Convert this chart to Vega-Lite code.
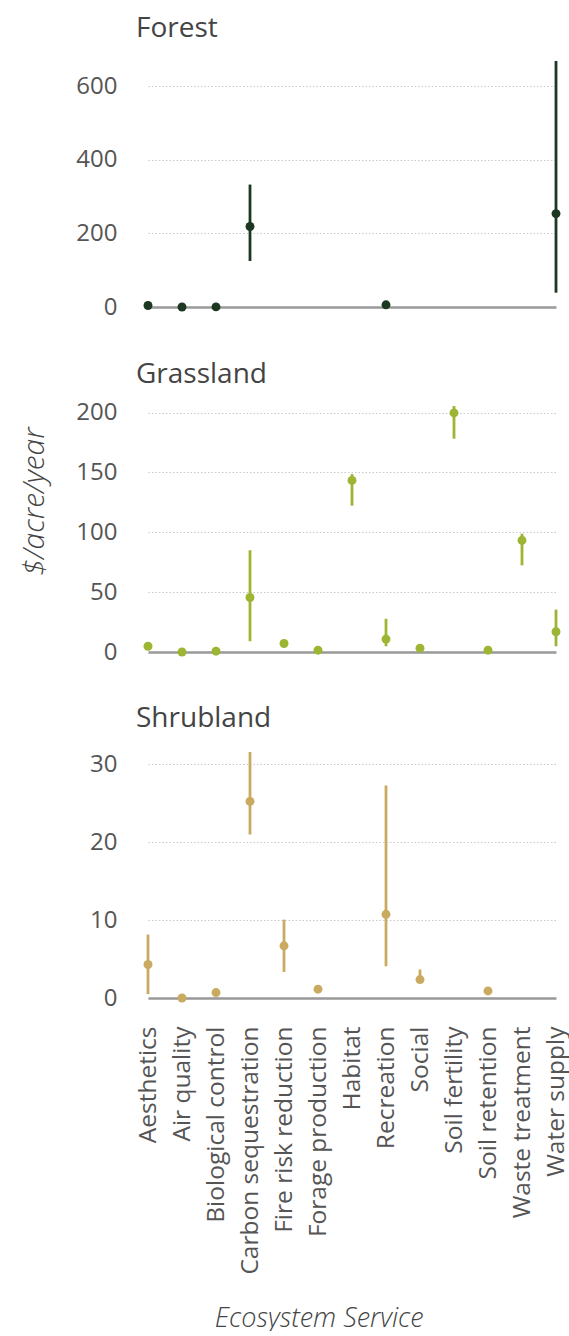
{
  "$schema": "https://vega.github.io/schema/vega-lite/v6.json",
  "padding": {"left": 18, "top": 14, "right": 0, "bottom": 0},
  "spacing": 41,
  "config": {
    "font": "Open Sans",
    "view": {"stroke": null},
    "axis": {"labelFont": "Open Sans", "titleFont": "Open Sans", "labelColor": "#555", "titleColor": "#444", "ticks": false, "domain": false, "grid": false},
    "title": {"font": "Open Sans", "fontSize": 28, "fontWeight": "normal", "color": "#444", "anchor": "start", "frame": "group", "dx": 8, "baseline": "alphabetic"}
  },
  "datasets": {
    "es": [
      {"biome": "Forest", "service": "Aesthetics", "value": 4},
      {"biome": "Forest", "service": "Air quality", "value": 0},
      {"biome": "Forest", "service": "Biological control", "value": 0.3},
      {"biome": "Forest", "service": "Carbon sequestration", "value": 219, "lo": 125, "hi": 333},
      {"biome": "Forest", "service": "Recreation", "value": 6},
      {"biome": "Forest", "service": "Water supply", "value": 254, "lo": 39, "hi": 669},
      {"biome": "Grassland", "service": "Aesthetics", "value": 4.8},
      {"biome": "Grassland", "service": "Air quality", "value": 0},
      {"biome": "Grassland", "service": "Biological control", "value": 0.7},
      {"biome": "Grassland", "service": "Carbon sequestration", "value": 45.5, "lo": 9, "hi": 85},
      {"biome": "Grassland", "service": "Fire risk reduction", "value": 7.1},
      {"biome": "Grassland", "service": "Forage production", "value": 1.5},
      {"biome": "Grassland", "service": "Habitat", "value": 143.3, "lo": 122.2, "hi": 148.6},
      {"biome": "Grassland", "service": "Recreation", "value": 10.8, "lo": 4.8, "hi": 27.7},
      {"biome": "Grassland", "service": "Social", "value": 3.2},
      {"biome": "Grassland", "service": "Soil fertility", "value": 199.7, "lo": 178.2, "hi": 205.5},
      {"biome": "Grassland", "service": "Soil retention", "value": 1.5},
      {"biome": "Grassland", "service": "Waste treatment", "value": 93.3, "lo": 72.4, "hi": 98.8},
      {"biome": "Grassland", "service": "Water supply", "value": 16.9, "lo": 4.8, "hi": 35.4},
      {"biome": "Shrubland", "service": "Aesthetics", "value": 4.3, "lo": 0.5, "hi": 8.15},
      {"biome": "Shrubland", "service": "Air quality", "value": 0},
      {"biome": "Shrubland", "service": "Biological control", "value": 0.7},
      {"biome": "Shrubland", "service": "Carbon sequestration", "value": 25.25, "lo": 21.0, "hi": 31.6},
      {"biome": "Shrubland", "service": "Fire risk reduction", "value": 6.7, "lo": 3.35, "hi": 10.07},
      {"biome": "Shrubland", "service": "Forage production", "value": 1.13},
      {"biome": "Shrubland", "service": "Recreation", "value": 10.75, "lo": 4.08, "hi": 27.3},
      {"biome": "Shrubland", "service": "Social", "value": 2.37, "lo": 2.0, "hi": 3.66},
      {"biome": "Shrubland", "service": "Soil retention", "value": 0.91}
    ]
  },
  "vconcat": [
    {
      "title": {"text": "Forest", "offset": 16.7},
      "width": 441, "height": 246,
      "data": {"name": "es"},
      "transform": [{"filter": "datum.biome === 'Forest'"}],
      "encoding": {
        "x": {"field": "service", "type": "nominal", "title": null,
          "scale": {"type": "point", "padding": 0, "range": [20, 428], "domain": ["Aesthetics", "Air quality", "Biological control", "Carbon sequestration", "Fire risk reduction", "Forage production", "Habitat", "Recreation", "Social", "Soil fertility", "Soil retention", "Waste treatment", "Water supply"]},
          "axis": {"labels": false, "domain": true, "domainColor": "#999", "domainWidth": 2.5}}
      },
      "layer": [
        {"transform": [{"filter": {"field": "lo", "valid": true}}],
         "mark": {"type": "rule", "strokeWidth": 2.8, "color": "#1c3820"},
         "encoding": {"y": {"field": "lo", "type": "quantitative", "title": null, "scale": {"nice": false},
            "axis": {"values": [0, 200, 400, 600], "grid": true, "gridDash": [1.5, 2], "gridColor": "#c8c8c8", "labelFontSize": 24, "labelPadding": 11}},
           "y2": {"field": "hi"}}},
        {"mark": {"type": "circle", "size": 80, "opacity": 1, "color": "#1c3820"},
         "encoding": {"y": {"field": "value", "type": "quantitative", "title": null, "scale": {"nice": false},
            "axis": {"values": [0, 200, 400, 600], "grid": true, "gridDash": [1.5, 2], "gridColor": "#c8c8c8", "labelFontSize": 24, "labelPadding": 11}}}}
      ]
    },
    {
      "title": {"text": "Grassland", "offset": 11.8},
      "width": 441, "height": 246,
      "data": {"name": "es"},
      "transform": [{"filter": "datum.biome === 'Grassland'"}],
      "encoding": {
        "x": {"field": "service", "type": "nominal", "title": null,
          "scale": {"type": "point", "padding": 0, "range": [20, 428], "domain": ["Aesthetics", "Air quality", "Biological control", "Carbon sequestration", "Fire risk reduction", "Forage production", "Habitat", "Recreation", "Social", "Soil fertility", "Soil retention", "Waste treatment", "Water supply"]},
          "axis": {"labels": false, "domain": true, "domainColor": "#999", "domainWidth": 2.5}}
      },
      "layer": [
        {"transform": [{"filter": {"field": "lo", "valid": true}}],
         "mark": {"type": "rule", "strokeWidth": 2.8, "color": "#9cb633"},
         "encoding": {"y": {"field": "lo", "type": "quantitative", "title": "$/acre/year", "scale": {"nice": false},
            "axis": {"values": [0, 50, 100, 150, 200], "grid": true, "gridDash": [1.5, 2], "gridColor": "#c8c8c8", "labelFontSize": 24, "labelPadding": 11,
              "titleFontSize": 30, "titleFontStyle": "italic", "titleFontWeight": 300, "titleAngle": -90, "titleAlign": "center", "titleBaseline": "middle", "titleX": -94, "titleY": 95}},
           "y2": {"field": "hi"}}},
        {"mark": {"type": "circle", "size": 80, "opacity": 1, "color": "#9cb633"},
         "encoding": {"y": {"field": "value", "type": "quantitative", "title": "$/acre/year", "scale": {"nice": false},
            "axis": {"values": [0, 50, 100, 150, 200], "grid": true, "gridDash": [1.5, 2], "gridColor": "#c8c8c8", "labelFontSize": 24, "labelPadding": 11,
              "titleFontSize": 30, "titleFontStyle": "italic", "titleFontWeight": 300, "titleAngle": -90, "titleAlign": "center", "titleBaseline": "middle", "titleX": -94, "titleY": 95}}}}
      ]
    },
    {
      "title": {"text": "Shrubland", "offset": 17.5},
      "width": 441, "height": 246,
      "data": {"name": "es"},
      "transform": [{"filter": "datum.biome === 'Shrubland'"}],
      "encoding": {
        "x": {"field": "service", "type": "nominal", "title": "Ecosystem Service",
          "scale": {"type": "point", "padding": 0, "range": [20, 428], "domain": ["Aesthetics", "Air quality", "Biological control", "Carbon sequestration", "Fire risk reduction", "Forage production", "Habitat", "Recreation", "Social", "Soil fertility", "Soil retention", "Waste treatment", "Water supply"]},
          "axis": {"domain": true, "domainColor": "#999", "domainWidth": 2.5, "labelAngle": -90, "labelAlign": "right", "labelBaseline": "middle", "labelFontSize": 24.5, "labelPadding": 28, "labelLimit": 0,
            "titleFontSize": 27, "titleFontStyle": "italic", "titleFontWeight": 300, "titleAlign": "center", "titleBaseline": "alphabetic", "titleX": 190.7, "titleY": 328}}
      },
      "layer": [
        {"transform": [{"filter": {"field": "lo", "valid": true}}],
         "mark": {"type": "rule", "strokeWidth": 2.8, "color": "#c9aa60"},
         "encoding": {"y": {"field": "lo", "type": "quantitative", "title": null, "scale": {"nice": false},
            "axis": {"values": [0, 10, 20, 30], "grid": true, "gridDash": [1.5, 2], "gridColor": "#c8c8c8", "labelFontSize": 24, "labelPadding": 11}},
           "y2": {"field": "hi"}}},
        {"mark": {"type": "circle", "size": 80, "opacity": 1, "color": "#c9aa60"},
         "encoding": {"y": {"field": "value", "type": "quantitative", "title": null, "scale": {"nice": false},
            "axis": {"values": [0, 10, 20, 30], "grid": true, "gridDash": [1.5, 2], "gridColor": "#c8c8c8", "labelFontSize": 24, "labelPadding": 11}}}}
      ]
    }
  ]
}
